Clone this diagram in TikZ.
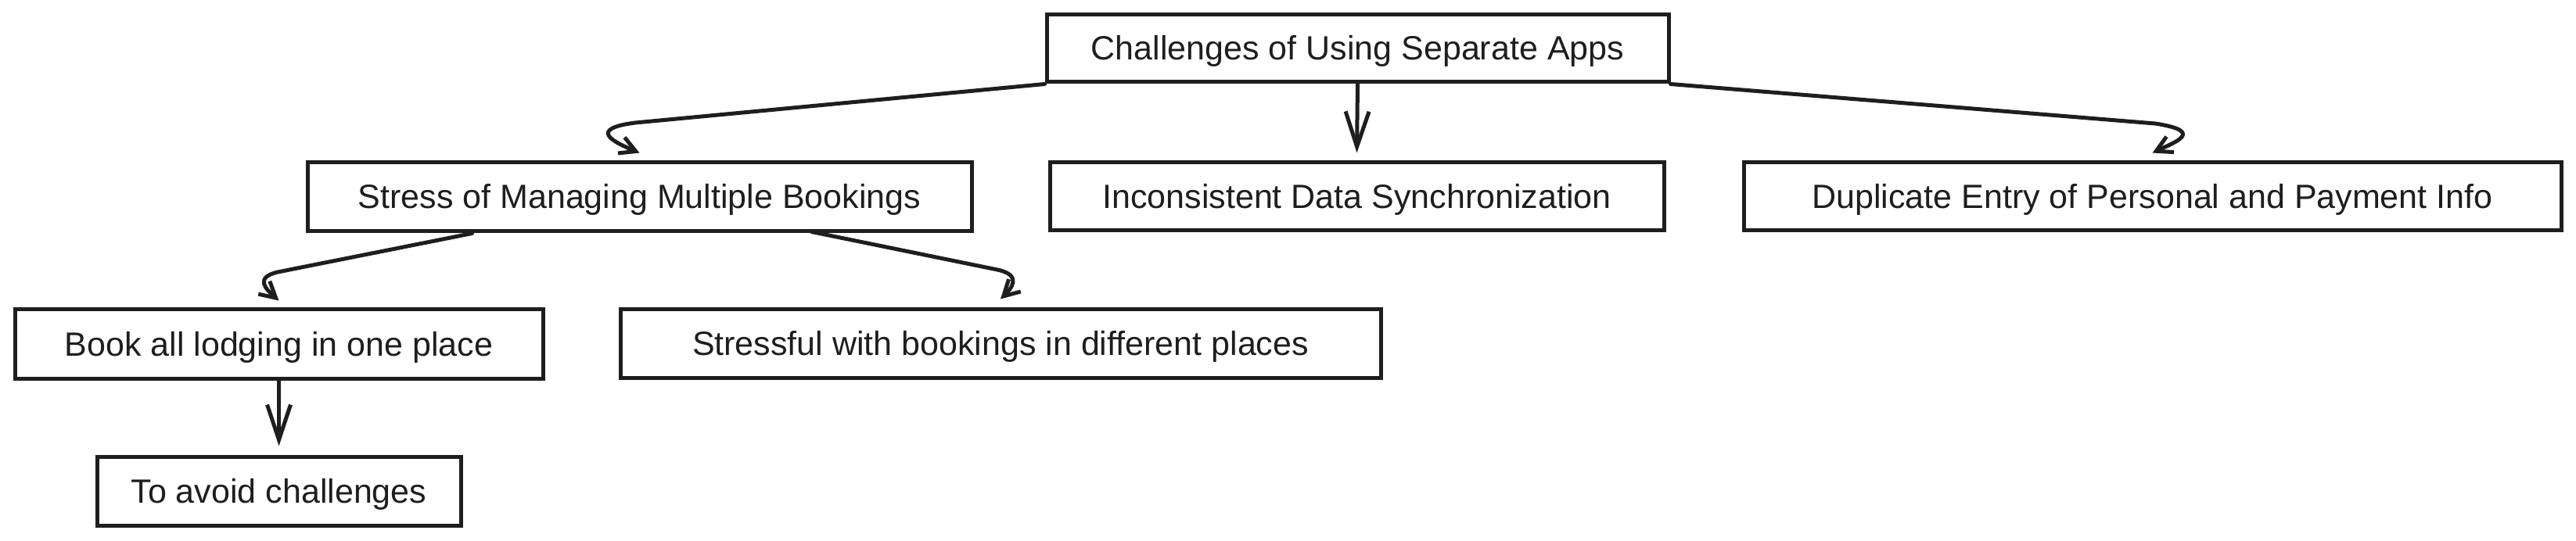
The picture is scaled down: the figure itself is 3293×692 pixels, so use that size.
\documentclass[tikz,border=0pt]{standalone}
\usepackage{fontspec}
\setmainfont{Liberation Sans}
\usetikzlibrary{arrows.meta,calc}
\definecolor{ink}{HTML}{1E1E1E}
\begin{document}
\begin{tikzpicture}[x=1pt,y=-1pt,
  box/.style={draw=ink, line width=5pt, inner sep=0pt, text=ink,
    font=\fontsize{43}{50}\selectfont, align=center, text height=30pt, text depth=0pt},
  conn/.style={draw=ink, line width=5pt, line cap=round, line join=round},
  bigtip/.style={-{Straight Barb[length=45pt,width=30pt]}},
  smalltip/.style={-{Straight Barb[length=20pt,width=22pt]}}]
\useasboundingbox[fill=white] (0,0) rectangle (3293,692);

\node[box, minimum width=795pt, minimum height=86pt] (top) at (1735.5,62) {Challenges of Using Separate Apps};
\node[box, minimum width=849pt, minimum height=88pt] (stress) at (817.5,252) {Stress of Managing Multiple Bookings};
\node[box, minimum width=785pt, minimum height=87pt] (incon) at (1734.5,251.5) {Inconsistent Data Synchronization};
\node[box, minimum width=1045pt, minimum height=87pt] (dup) at (2751.5,251.5) {Duplicate Entry of Personal and Payment Info};
\node[box, minimum width=675pt, minimum height=88pt] (book) at (356.5,440) {Book all lodging in one place};
\node[box, minimum width=972pt, minimum height=87pt] (stressful) at (1279,439.5) {Stressful with bookings in different places};
\node[box, minimum width=465pt, minimum height=88pt] (avoid) at (356.5,628) {To avoid challenges};

% top -> stress
\draw[conn, smalltip] (top.south west) -- (812,157) .. controls (750,165) and (785,182) .. ([yshift=10pt]stress.north);
% top -> inconsistent
\draw[conn, bigtip] (top.south) -- ([yshift=10pt]incon.north);
% top -> duplicate
\draw[conn, smalltip] (top.south east) -- (2755,158) .. controls (2820,168) and (2780,182) .. ([yshift=10pt]dup.north);
% stress -> book
\draw[conn, smalltip] ($(stress.south)+(-214,0)$) -- (355,348) .. controls (325,355) and (340,370) .. ([yshift=9pt]book.north);
% stress -> stressful
\draw[conn, smalltip] ($(stress.south)+(220,-2)$) -- (1275,345) .. controls (1308,352) and (1292,370) .. ([yshift=11pt]stressful.north);
% book -> avoid
\draw[conn, bigtip] (book.south) -- ([yshift=11pt]avoid.north);
\end{tikzpicture}
\end{document}
